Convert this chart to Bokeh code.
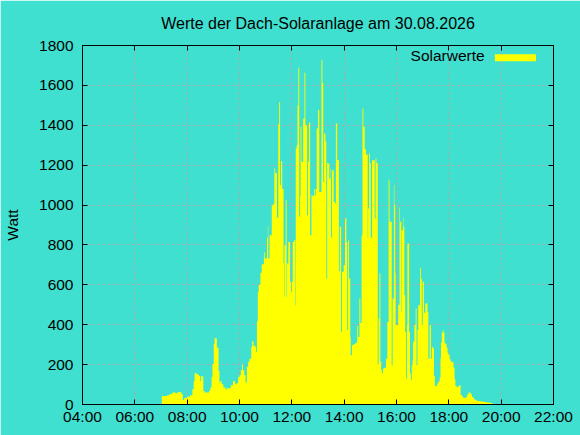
import numpy as np
from bokeh.plotting import figure
from bokeh.models import LinearAxis, FixedTicker, Range1d, Label, BoxAnnotation
from bokeh.embed import file_html
from bokeh.resources import INLINE

TITLE = "Werte der Dach-Solaranlage am 30.08.2026"
Y_LABEL = "Watt"
SERIES_NAME = "Solarwerte"
X_TICKS = [4, 6, 8, 10, 12, 14, 16, 18, 20, 22]
X_TICK_LABELS = ["04:00", "06:00", "08:00", "10:00", "12:00", "14:00",
                 "16:00", "18:00", "20:00", "22:00"]
Y_TICKS = [0, 200, 400, 600, 800, 1000, 1200, 1400, 1600, 1800]

TIMES = [
    "07:02", "07:14", "07:20", "07:26", "07:33", "07:38", "07:47", "07:50", "07:53", "08:00",
    "08:07", "08:12", "08:15", "08:17", "08:22", "08:27", "08:30", "08:32", "08:37", "08:40",
    "08:50", "08:53", "08:56", "08:58", "09:01", "09:03", "09:08", "09:12", "09:14", "09:16",
    "09:19", "09:23", "09:28", "09:31", "09:40", "09:45", "09:50", "09:54", "09:57", "10:00",
    "10:03", "10:06", "10:08", "10:11", "10:14", "10:17", "10:20", "10:23", "10:27", "10:29",
    "10:32", "10:35", "10:38", "10:40", "10:42", "10:44", "10:48", "10:51", "10:56", "10:58",
    "11:03", "11:05", "11:06", "11:09", "11:14", "11:18", "11:20", "11:22", "11:24", "11:26",
    "11:29", "11:31", "11:33", "11:35", "11:38", "11:41", "11:42", "11:43", "11:46", "11:48",
    "11:49", "11:52", "11:56", "11:58", "12:00", "12:02", "12:05", "12:08", "12:09", "12:11",
    "12:13", "12:15", "12:17", "12:19", "12:20", "12:22", "12:26", "12:29", "12:31", "12:35",
    "12:37", "12:39", "12:42", "12:45", "12:48", "12:51", "12:53", "12:55", "12:57", "13:00",
    "13:03", "13:08", "13:10", "13:12", "13:14", "13:17", "13:19", "13:21", "13:23", "13:26",
    "13:29", "13:30", "13:32", "13:36", "13:39", "13:41", "13:44", "13:48", "13:50", "13:53",
    "13:55", "13:59", "14:02", "14:05", "14:07", "14:09", "14:11", "14:14", "14:15", "14:18",
    "14:21", "14:26", "14:30", "14:32", "14:35", "14:37", "14:40", "14:42", "14:44", "14:47",
    "14:50", "14:54", "14:55", "14:57", "14:59", "15:01", "15:04", "15:10", "15:12", "15:14",
    "15:17", "15:19", "15:21", "15:23", "15:25", "15:27", "15:29", "15:32", "15:36", "15:39",
    "15:42", "15:44", "15:49", "15:51", "15:54", "15:55", "15:57", "15:58", "16:04", "16:07",
    "16:08", "16:11", "16:12", "16:15", "16:16", "16:18", "16:20", "16:22", "16:24", "16:25",
    "16:29", "16:31", "16:33", "16:35", "16:37", "16:38", "16:41", "16:44", "16:46", "16:48",
    "16:50", "16:54", "16:56", "16:58", "17:00", "17:03", "17:06", "17:11", "17:13", "17:16",
    "17:19", "17:21", "17:23", "17:26", "17:28", "17:33", "17:36", "17:39", "17:41", "17:42",
    "17:44", "17:46", "17:48", "17:50", "17:52", "17:55", "17:57", "17:59", "18:02", "18:04",
    "18:08", "18:11", "18:13", "18:15", "18:18", "18:20", "18:22", "18:24", "18:27", "18:30",
    "18:32", "18:34", "18:37", "18:40", "18:42", "18:45", "18:50", "18:53", "18:57", "19:00",
    "19:04", "19:12", "19:20", "19:27", "19:35", "19:40",
]
WATTS = [
    42, 47, 53, 60, 57, 62, 52, 23, 32, 40,
    47, 77, 118, 157, 150, 143, 118, 142, 68, 60,
    68, 85, 138, 202, 305, 332, 285, 168, 110, 118,
    102, 85, 75, 82, 97, 118, 102, 108, 138, 147,
    172, 200, 172, 147, 110, 189, 214, 230, 289, 317,
    297, 289, 264, 418, 565, 601, 660, 703, 762, 732,
    836, 894, 732, 849, 999, 1008, 1183, 1158, 1161, 936,
    1405, 1517, 1100, 1220, 1080, 707, 540, 799, 1024, 540,
    707, 815, 615, 565, 615, 815, 824, 498, 1283, 1300,
    1500, 1688, 941, 1046, 1392, 1217, 1434, 1663, 1400, 949,
    1217, 1414, 849, 1049, 1046, 1080, 1049, 1080, 1384, 1476,
    1066, 1726, 1613, 1116, 1359, 1317, 632, 1211, 1208, 1133,
    1183, 836, 1175, 1016, 1008, 1409, 1225, 668, 891, 364,
    665, 698, 932, 815, 373, 824, 632, 339, 247, 297,
    302, 309, 393, 339, 531, 409, 849, 1484, 1392, 1280,
    1253, 836, 983, 1258, 1211, 836, 1225, 932, 1233, 1211,
    200, 431, 657, 214, 172, 155, 180, 184, 230, 414,
    1125, 916, 197, 531, 1100, 999, 657, 398, 500, 988,
    916, 465, 874, 936, 891, 548, 364, 130, 398, 807,
    364, 155, 122, 197, 222, 314, 398, 481, 197, 373,
    498, 685, 632, 398, 615, 460, 506, 465, 230, 397,
    230, 289, 282, 144, 93, 105, 115, 135, 235, 310,
    360, 372, 360, 310, 302, 285, 260, 249, 227, 215,
    210, 182, 127, 93, 85, 88, 93, 97, 48, 43,
    35, 32, 35, 38, 52, 60, 52, 38, 27, 22,
    18, 15, 13, 10, 7, 0,
]

hours = [int(s[:2]) + int(s[3:]) / 60.0 for s in TIMES]
px = [hours[0]]
py = [0]
for i in range(len(hours) - 1):
    px += [hours[i], hours[i + 1]]
    py += [WATTS[i], WATTS[i]]
px.append(hours[-1])
py.append(0)

BG = "#40E0D0"
FONT = "Liberation Sans"
FS = "15.5px"
GRID = "#c89aa2"

p = figure(width=580, height=435, x_range=Range1d(4, 22), y_range=Range1d(0, 1800),
           output_backend="svg", toolbar_location=None, title=TITLE,
           min_border_left=82, min_border_right=27, min_border_top=45, min_border_bottom=31)
p.background_fill_color = BG
p.border_fill_color = BG
p.outline_line_color = "black"
p.outline_line_width = 1

p.title.text_font = FONT
p.title.text_font_size = "16px"
p.title.text_font_style = "normal"
p.title.text_color = "black"
p.title.align = "center"
p.title.vertical_align = "top"
p.title.standoff = 23

p.patch(px, py, fill_color="#FFFF00", line_color=None)

bottom = p.below[0]
left = p.left[0]

xt = FixedTicker(ticks=X_TICKS)
yt = FixedTicker(ticks=Y_TICKS)
bottom.ticker = xt
left.ticker = yt
bottom.major_label_overrides = dict(zip(X_TICKS, X_TICK_LABELS))
p.xgrid.ticker = xt
p.ygrid.ticker = yt
p.grid.grid_line_color = GRID
p.grid.grid_line_dash = "2 3"
p.grid.grid_line_width = 1

top = LinearAxis(ticker=xt)
right = LinearAxis(ticker=yt)
p.add_layout(top, "above")
p.add_layout(right, "right")

for ax in [bottom, left, top, right]:
    ax.axis_line_color = "black"
    ax.major_tick_line_color = "black"
    ax.major_tick_in = 5
    ax.major_tick_out = 0
    ax.minor_tick_in = 0
    ax.minor_tick_out = 0
    ax.major_label_text_font = FONT
    ax.major_label_text_font_size = FS
    ax.major_label_text_color = "black"

# mirror axes: ticks only, no labels
for ax in [top, right]:
    ax.major_label_text_color = None
    ax.major_label_text_font_size = "1px"
    ax.major_label_standoff = 0

bottom.major_label_standoff = 3
left.major_label_standoff = 9
left.axis_label = Y_LABEL
left.axis_label_text_font = FONT
left.axis_label_text_font_size = FS
left.axis_label_text_font_style = "normal"
left.axis_label_text_color = "black"
left.axis_label_standoff = 15

# legend (text left of key, as in the original)
p.add_layout(Label(x=19.37, y=1748, text=SERIES_NAME, text_align="right", text_baseline="middle",
                   text_font=FONT, text_font_size=FS, text_color="black"))
p.add_layout(BoxAnnotation(left=19.76, right=21.33, bottom=1721, top=1756,
                           fill_color="#FFFF00", fill_alpha=1, line_color=None))

open("out.html", "w").write(file_html(p, INLINE))
